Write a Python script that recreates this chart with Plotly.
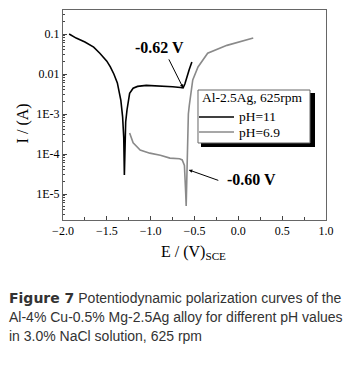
import math
import plotly.graph_objects as go

# ---- data ----
E_ph11 = [-1.93, -1.85, -1.75, -1.65, -1.58, -1.50, -1.46, -1.42, -1.38, -1.34, -1.32, -1.307,
          -1.30, -1.294, -1.285, -1.27, -1.24, -1.20, -1.15, -1.05, -0.90, -0.75, -0.66, -0.63,
          -0.61, -0.59, -0.56, -0.53]
I_ph11 = [0.1, 0.079, 0.063, 0.047, 0.033, 0.021, 0.015, 0.010, 0.006, 0.0022, 8.5e-4, 2.5e-4,
          3e-5, 2e-4, 6.3e-4, 1.26e-3, 3.3e-3, 4.4e-3, 4.9e-3, 5.2e-3, 5.1e-3, 4.8e-3, 4.6e-3, 4.5e-3,
          5.6e-3, 8.3e-3, 1.3e-2, 2.0e-2]

E_ph69 = [-1.24, -1.22, -1.20, -1.12, -1.01, -0.89, -0.78, -0.67, -0.64, -0.615, -0.605, -0.60,
          -0.595, -0.59, -0.585, -0.578, -0.57, -0.56, -0.55, -0.52, -0.46, -0.35, -0.13, 0.17]
I_ph69 = [3.35e-4, 2.4e-4, 1.9e-4, 1.26e-4, 1.05e-4, 9.3e-5, 7.9e-5, 7.6e-5, 7.1e-5, 5.2e-5, 2.5e-5, 1e-5,
          5e-6, 2.5e-5, 1.26e-4, 5e-4, 1e-3, 1.6e-3, 2.5e-3, 7.1e-3, 0.015, 0.033, 0.052, 0.079]

y_tickvals = [1e-5, 1e-4, 1e-3, 0.01, 0.1]
y_ticktext = ["1E-5", "1E-4", "1E-3", "0.01", "0.1"]

labels = {"ph11": "pH=11", "ph69": "pH=6.9"}
legend_title = "Al-2.5Ag, 625rpm"
ann_ph11 = {"text": "-0.62 V", "E": -0.63, "I": 4.5e-3, "tx": -0.905, "ty": 0.0447}
ann_ph69 = {"text": "-0.60 V", "E": -0.565, "I": 4.0e-5, "tx": 0.155, "ty": 2.24e-5}
caption = [
    '<span style="font-family:DejaVu Sans;font-weight:bold">Figure 7</span> Potentiodynamic polarization curves of the',
    "Al-4% Cu-0.5% Mg-2.5Ag alloy for different pH values",
    "in 3.0% NaCl solution, 625 rpm",
]

SERIF = "Liberation Serif, Times New Roman, serif"
SANS = "Liberation Sans, Arial, sans-serif"
COL11, COL69 = "black", "#8a8a8a"

fig = go.Figure()
fig.add_trace(go.Scatter(x=E_ph11, y=I_ph11, mode="lines", name=labels["ph11"], showlegend=False,
                         line=dict(color=COL11, width=1.6)))
fig.add_trace(go.Scatter(x=E_ph69, y=I_ph69, mode="lines", name=labels["ph69"], showlegend=False,
                         line=dict(color=COL69, width=1.6)))

axis_common = dict(showgrid=False, zeroline=False, showline=True, linecolor="#666", linewidth=1,
                   mirror=True, ticks="inside", ticklen=4, tickcolor="#444",
                   tickfont=dict(family=SERIF, size=12, color="black"))

fig.update_xaxes(range=[-2, 1], dtick=0.5, tick0=0, tickformat=".1f",
                 minor=dict(ticks="inside", ticklen=3, dtick=0.25, tick0=0, tickcolor="#444"),
                 **axis_common)
fig.update_yaxes(type="log", range=[-5.65, -0.4], tickmode="array", tickvals=y_tickvals,
                 ticktext=y_ticktext,
                 minor=dict(ticks="inside", ticklen=2, dtick="D1", tickcolor="#444"),
                 **axis_common)

annotations = []
# arrows
annotations.append(dict(x=ann_ph11["E"], y=math.log10(ann_ph11["I"]), xref="x", yref="y",
                        text="", showarrow=True, ax=-15, ay=-30, arrowhead=2, arrowsize=0.7,
                        arrowwidth=1, arrowcolor="black"))
annotations.append(dict(x=ann_ph11["tx"], y=math.log10(ann_ph11["ty"]), xref="x", yref="y",
                        text="<b>" + ann_ph11["text"] + "</b>", showarrow=False,
                        font=dict(family=SERIF, size=16, color="black")))
annotations.append(dict(x=ann_ph69["E"], y=math.log10(ann_ph69["I"]), xref="x", yref="y",
                        text="", showarrow=True, ax=31, ay=11, arrowhead=2, arrowsize=0.7,
                        arrowwidth=1, arrowcolor="black"))
annotations.append(dict(x=ann_ph69["tx"], y=math.log10(ann_ph69["ty"]), xref="x", yref="y",
                        text="<b>" + ann_ph69["text"] + "</b>", showarrow=False,
                        font=dict(family=SERIF, size=16, color="black")))
# axis titles
annotations.append(dict(x=-0.194, y=0.46, xref="paper", yref="paper", text="I / (A)",
                        textangle=-90, showarrow=False,
                        font=dict(family=SERIF, size=16, color="black")))
annotations.append(dict(x=0.498, y=-0.098, xref="paper", yref="paper", yanchor="top",
                        text="E / (V)<sub>SCE</sub>", showarrow=False,
                        font=dict(family=SERIF, size=16, color="black")))
# caption
for line, yc in zip(caption, [-0.371, -0.462, -0.552]):
    annotations.append(dict(x=-0.2129, y=yc, xref="paper", yref="paper", text=line,
                            xanchor="left", yanchor="middle", showarrow=False, align="left",
                            font=dict(family=SANS, size=14, color="#333")))

# legend box (drawn explicitly: white box with drop shadow)
leg_font = dict(family=SERIF, size=13.5, color="black")
annotations.append(dict(x=0.5209, y=0.581, xref="paper", yref="paper", text=legend_title,
                        xanchor="left", yanchor="middle", showarrow=False, font=leg_font))
entry_y = [0.4905, 0.419]
for key, yy in zip(["ph11", "ph69"], entry_y):
    annotations.append(dict(x=0.6616, y=yy, xref="paper", yref="paper", text=labels[key],
                            xanchor="left", yanchor="middle", showarrow=False, font=leg_font))

shapes = [
    dict(type="rect", xref="paper", yref="paper", x0=0.5247, x1=0.9582, y0=0.3476, y1=0.6048,
         fillcolor="black", line=dict(width=0), layer="above"),
    dict(type="rect", xref="paper", yref="paper", x0=0.5133, x1=0.9392, y0=0.3667, y1=0.6190,
         fillcolor="white", line=dict(color="#666", width=1), layer="above"),
]
for col, yy in zip([COL11, COL69], entry_y):
    shapes.append(dict(type="line", xref="paper", yref="paper", x0=0.5171, x1=0.6502, y0=yy, y1=yy,
                       line=dict(color=col, width=1.6), layer="above"))

fig.update_layout(
    width=348, height=368,
    margin=dict(l=63, r=22, t=10, b=148, pad=0),
    paper_bgcolor="white", plot_bgcolor="white",
    showlegend=False, hovermode=False,
    annotations=annotations,
    shapes=shapes,
)

fig.write_html("out.html", config={"displayModeBar": False},
               post_script="document.body.style.margin='0';document.body.style.padding='0';")
